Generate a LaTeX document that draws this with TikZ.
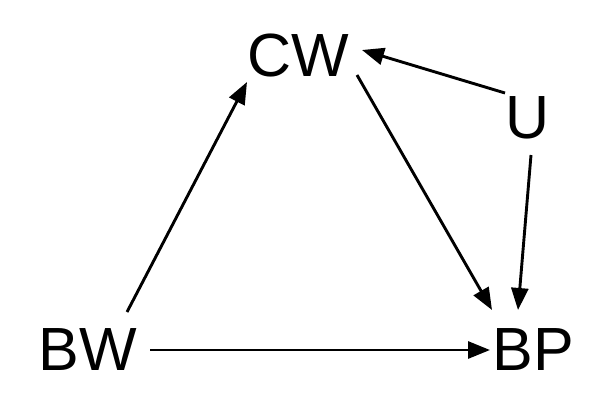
\documentclass[tikz,border=0pt]{standalone}
\usepackage{fontspec}
\setmainfont{Liberation Sans}
\usetikzlibrary{arrows.meta}
\begin{document}
\begin{tikzpicture}[x=1pt,y=-1pt,
  var/.style={inner sep=0pt, font=\fontsize{61}{61}\selectfont},
  arr/.style={line width=2.9pt, -{Triangle[length=22pt,width=17pt]}}]
\useasboundingbox (0,0) rectangle (600,412);
\node[var] (cw) at (298,56) {CW};
\node[var] (u) at (528,118) {U};
\node[var] (bw) at (88,350) {BW};
\node[var] (bp) at (533,350) {BP};
\draw[arr] ([shift={(39,-38)}]bw.center) -- ([shift={(-51,26)}]cw.center);
\draw[arr] ([shift={(59,19)}]cw.center) -- ([shift={(-41,-40)}]bp.center);
\draw[arr] ([shift={(-23,-25)}]u.center) -- ([shift={(64,-6)}]cw.center);
\draw[arr] ([shift={(3,37)}]u.center) -- ([shift={(-15,-40)}]bp.center);
\draw[arr] ([shift={(62,0)}]bw.center) -- ([shift={(-43,0)}]bp.center);
\end{tikzpicture}
\end{document}
